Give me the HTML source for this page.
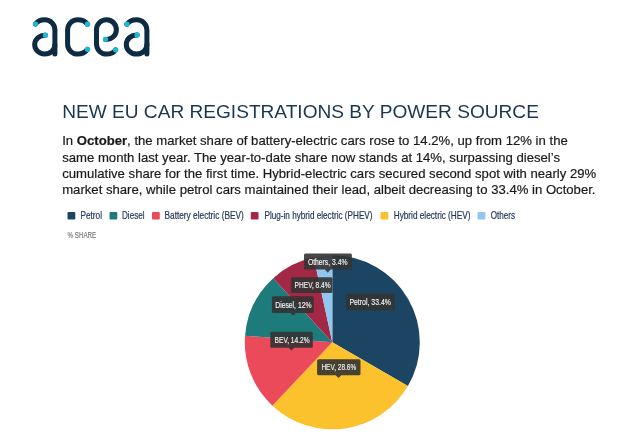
<!DOCTYPE html>
<html>
<head>
<meta charset="utf-8">
<style>
html,body{margin:0;padding:0;background:#fff;}
body{width:640px;height:444px;position:relative;overflow:hidden;font-family:"Liberation Sans",sans-serif;}
#title{position:absolute;left:62.2px;top:100.1px;font-size:19.1px;line-height:24px;color:#1a3652;white-space:nowrap;}
#para{position:absolute;left:62.2px;top:133.3px;font-size:13.13px;-webkit-text-stroke:0.2px #1a1a1a;line-height:16.33px;color:#1a1a1a;white-space:nowrap;}
svg text{font-family:"Liberation Sans",sans-serif;}
</style>
</head>
<body>
<div id="wrap" style="position:absolute;left:0;top:0;width:640px;height:444px;filter:blur(0.45px)">
<svg id="logo" style="position:absolute;left:0;top:0" width="200" height="80" viewBox="0 0 200 80">
<g fill="none" stroke="#0d2b43" stroke-width="5" stroke-linecap="round" stroke-linejoin="round">
<path d="M35.5,24.1 C37.4,21.5 40.9,19.8 44.8,19.8 A10.1,10.1 0 0 1 54.9,29.9 L54.9,54"/>
<path d="M45.5,35.2 A10.1,9.45 0 1 0 54.9,44.65"/>
<path d="M87.5,24.2 C85.5,21.5 82,19.8 77.6,19.8 A10,10.1 0 0 0 67.6,29.9 L67.6,44 A10,10.1 0 0 0 77.6,54.1 C82,54.1 85.5,52.1 87.5,49.3"/>
<path d="M105.5,39.55 A9.95,9.95 0 1 0 96.5,29.65 L96.5,44.1 A9.95,10 0 0 0 106.45,54.1 C110.5,54.1 113.8,52.4 115.6,49.8"/>
<path d="M126.9,24.2 C128.8,21.4 132.4,19.7 136.6,19.7 A10.3,10.3 0 0 1 146.9,30 L146.9,54"/>
<path d="M137.1,35 A10.3,9.55 0 1 0 146.9,44.55"/>
</g>
<g fill="#1fb8d4">
<circle cx="35.5" cy="24.1" r="2.65"/>
<circle cx="45.5" cy="35.2" r="2.65"/>
<circle cx="87.5" cy="24.2" r="2.65"/>
<circle cx="87.5" cy="49.3" r="2.65"/>
<circle cx="105.5" cy="39.3" r="2.65"/>
<circle cx="115.6" cy="49.8" r="2.65"/>
<circle cx="126.9" cy="24.2" r="2.65"/>
<circle cx="137.1" cy="35" r="2.65"/>
</g>
</svg>

<div id="title">NEW EU CAR REGISTRATIONS BY POWER SOURCE</div>
<div id="para">In <b>October</b>, the market share of battery-electric cars rose to 14.2%, up from 12% in the<br>same month last year. The year-to-date share now stands at 14%, surpassing diesel’s<br>cumulative share for the first time. Hybrid-electric cars secured second spot with nearly 29%<br>market share, while petrol cars maintained their lead, albeit decreasing to 33.4% in October.</div>
<svg style="position:absolute;left:0;top:0" width="640" height="260" viewBox="0 0 640 260"><rect x="67.5" y="212" width="7.8" height="7.6" rx="1" fill="#1c4563"/>
<text x="80.5" y="218.8" font-size="10.1" fill="#20375a" stroke="#20375a" stroke-width="0.2" textLength="21.50" lengthAdjust="spacingAndGlyphs">Petrol</text>
<rect x="109.5" y="212" width="7.8" height="7.6" rx="1" fill="#1e7b7c"/>
<text x="122" y="218.8" font-size="10.1" fill="#20375a" stroke="#20375a" stroke-width="0.2" textLength="22.50" lengthAdjust="spacingAndGlyphs">Diesel</text>
<rect x="152" y="212" width="7.8" height="7.6" rx="1" fill="#eb4a5a"/>
<text x="164.5" y="218.8" font-size="10.1" fill="#20375a" stroke="#20375a" stroke-width="0.2" textLength="79.25" lengthAdjust="spacingAndGlyphs">Battery electric (BEV)</text>
<rect x="250.75" y="212" width="7.8" height="7.6" rx="1" fill="#a32846"/>
<text x="264.5" y="218.8" font-size="10.1" fill="#20375a" stroke="#20375a" stroke-width="0.2" textLength="108.00" lengthAdjust="spacingAndGlyphs">Plug-in hybrid electric (PHEV)</text>
<rect x="380.5" y="212" width="7.8" height="7.6" rx="1" fill="#fbc22e"/>
<text x="393.75" y="218.8" font-size="10.1" fill="#20375a" stroke="#20375a" stroke-width="0.2" textLength="76.75" lengthAdjust="spacingAndGlyphs">Hybrid electric (HEV)</text>
<rect x="477.5" y="212" width="7.8" height="7.6" rx="1" fill="#92c6ee"/>
<text x="490.75" y="218.8" font-size="10.1" fill="#20375a" stroke="#20375a" stroke-width="0.2" textLength="24.25" lengthAdjust="spacingAndGlyphs">Others</text>
<text x="67.5" y="237.5" font-size="8.6" fill="#7c7c7c" stroke="#7c7c7c" stroke-width="0.2" textLength="28.7" lengthAdjust="spacingAndGlyphs">% SHARE</text></svg>
<svg id="pie" style="position:absolute;left:0;top:0" width="640" height="444" viewBox="0 0 640 444">
<path d="M332.3,342.3 L332.30,255.30 A87.5,87.0 0 0 1 407.89,386.12 Z" fill="#1c4563"/>
<path d="M332.3,342.3 L407.89,386.12 A87.5,87.0 0 0 1 272.40,405.72 Z" fill="#fbc22e"/>
<path d="M332.3,342.3 L272.40,405.72 A87.5,87.0 0 0 1 245.05,335.75 Z" fill="#eb4a5a"/>
<path d="M332.3,342.3 L245.05,335.75 A87.5,87.0 0 0 1 273.21,278.14 Z" fill="#1e7b7c"/>
<path d="M332.3,342.3 L273.21,278.14 A87.5,87.0 0 0 1 313.75,257.28 Z" fill="#a32846"/>
<path d="M332.3,342.3 L313.75,257.28 A87.5,87.0 0 0 1 332.30,255.30 Z" fill="#92c6ee"/>
<path d="M305.5,253.5 H350.4 Q351.9,253.5 351.9,255.0 V267.9 Q351.9,269.4 350.4,269.4 H330.55 L327.75,272.75 L324.95,269.4 H305.5 Q304,269.4 304,267.9 V255.0 Q304,253.5 305.5,253.5 Z" fill="#333" fill-opacity="0.9"/>
<text x="307.90" y="265.00" font-size="9" fill="#f4f4f4" stroke="#f4f4f4" stroke-width="0.15" textLength="39.60" lengthAdjust="spacingAndGlyphs">Others, 3.4%</text>
<path d="M292.4,277.25 H331.0 Q332.5,277.25 332.5,278.75 V291.6 Q332.5,293.1 331.0,293.1 H292.4 Q290.9,293.1 290.9,291.6 V278.75 Q290.9,277.25 292.4,277.25 Z" fill="#333" fill-opacity="0.9"/>
<text x="294.60" y="288.20" font-size="9" fill="#f4f4f4" stroke="#f4f4f4" stroke-width="0.15" textLength="36.00" lengthAdjust="spacingAndGlyphs">PHEV, 8.4%</text>
<path d="M273.4,296.25 H312.25 Q313.75,296.25 313.75,297.75 V311.6 Q313.75,313.1 312.25,313.1 H295.90000000000003 L293.1,315.6 L290.3,313.1 H273.4 Q271.9,313.1 271.9,311.6 V297.75 Q271.9,296.25 273.4,296.25 Z" fill="#333" fill-opacity="0.9"/>
<text x="275.25" y="307.90" font-size="9" fill="#f4f4f4" stroke="#f4f4f4" stroke-width="0.15" textLength="36.25" lengthAdjust="spacingAndGlyphs">Diesel, 12%</text>
<path d="M271.8,331.7 H311.3 Q312.8,331.7 312.8,333.2 V346.3 Q312.8,347.8 311.3,347.8 H294.25 L291.45,350.6 L288.65,347.8 H271.8 Q270.3,347.8 270.3,346.3 V333.2 Q270.3,331.7 271.8,331.7 Z" fill="#333" fill-opacity="0.9"/>
<text x="274.60" y="342.90" font-size="9" fill="#f4f4f4" stroke="#f4f4f4" stroke-width="0.15" textLength="34.90" lengthAdjust="spacingAndGlyphs">BEV, 14.2%</text>
<path d="M318.6,359.2 H359.0 Q360.5,359.2 360.5,360.7 V373.8 Q360.5,375.3 359.0,375.3 H341.3 L338.5,378.1 L335.7,375.3 H318.6 Q317.1,375.3 317.1,373.8 V360.7 Q317.1,359.2 318.6,359.2 Z" fill="#333" fill-opacity="0.9"/>
<text x="321.40" y="369.80" font-size="9" fill="#f4f4f4" stroke="#f4f4f4" stroke-width="0.15" textLength="34.85" lengthAdjust="spacingAndGlyphs">HEV, 28.6%</text>
<path d="M347.5,293.75 H393.25 Q394.75,293.75 394.75,295.25 V309.1 Q394.75,310.6 393.25,310.6 H347.5 Q346,310.6 346,309.1 V295.25 Q346,293.75 347.5,293.75 Z" fill="#333" fill-opacity="0.9"/>
<text x="349.40" y="305.40" font-size="9" fill="#f4f4f4" stroke="#f4f4f4" stroke-width="0.15" textLength="41.50" lengthAdjust="spacingAndGlyphs">Petrol, 33.4%</text>
</svg>
</div>
</body>
</html>
